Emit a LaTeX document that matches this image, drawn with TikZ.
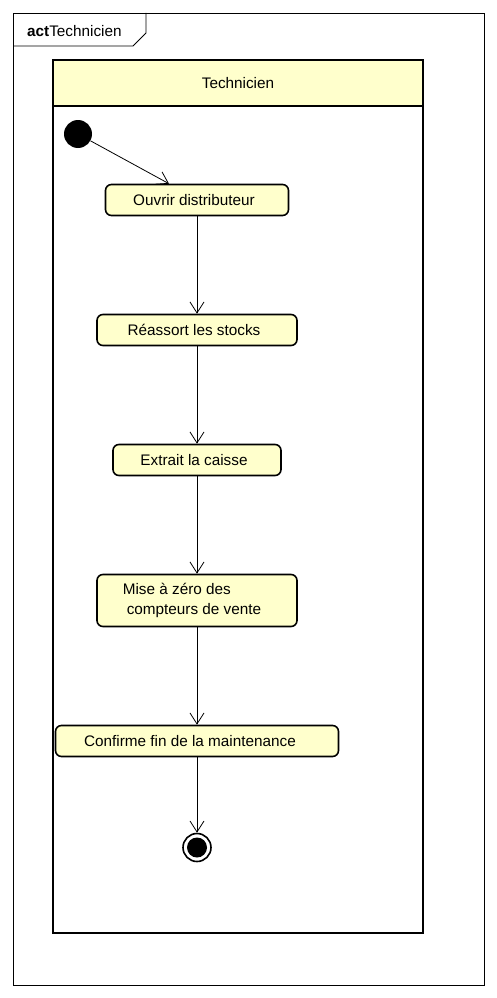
\documentclass[tikz,border=0pt]{standalone}
\usepackage{fontspec}
\setmainfont{Liberation Sans}
\usetikzlibrary{arrows.meta,positioning}
\definecolor{notepad}{HTML}{FFFFCC}

\begin{document}
\begin{tikzpicture}[
  x=1pt, y=-1pt,
  node distance=97.4pt,
  action/.style={draw, line width=1.6pt, fill=notepad, rounded corners=6pt, minimum height=31pt, inner sep=0pt, font=\fontsize{15.3}{20}\selectfont},
  lane/.style={draw, line width=1.6pt, inner sep=0pt},
  initial/.style={circle, fill, minimum size=28pt, inner sep=0pt},
  final/.style={circle, draw, line width=1.6pt, minimum size=28pt, inner sep=0pt, path picture={\fill (path picture bounding box.center) circle (10pt);}},
  arr/.style={-{Straight Barb[length=11pt,width=14pt]}, line width=0.8pt}
]
\useasboundingbox (0,0) rectangle (497,998);

% frame and tab
\draw[line width=0.8pt] (13,13) rectangle (484,985);
\draw[line width=0.8pt] (13,46) -- (133,46) -- (146,33) -- (146,13);
\node[anchor=west, inner sep=0pt, font=\fontsize{15.3}{18}\selectfont] (tab) at (27,31) {\textbf{act}Technicien};

% swimlane
\node[lane, minimum width=370pt, minimum height=873pt] (lane) at (238,496.5) {};
\node[lane, fill=notepad, minimum width=370pt, minimum height=46pt, font=\fontsize{15.3}{18}\selectfont] (head) at (238,83) {\raisebox{-2pt}{Technicien}};

\node[initial] (init) at (78,134) {};
\node[action, minimum width=183pt] (open) at (197,200) {\hspace*{-6pt}Ouvrir distributeur};
\node[action, minimum width=200pt, below=of open] (restock) {\hspace*{-6pt}Réassort les stocks};
\node[action, minimum width=168pt, below=of restock] (cash) {\hspace*{-6pt}Extrait la caisse};
\node[action, minimum width=200pt, minimum height=52pt, align=left, below=of cash] (reset) {Mise à zéro des\\\hspace*{4pt}compteurs de vente\hspace*{10pt}};
\node[action, minimum width=283pt, below=of reset] (confirm) {\hspace*{-14pt}Confirme fin de la maintenance};
\node[final, below=75.4pt of confirm] (final) {};

\draw[arr] (init) -- ([xshift=-28pt]open.north);
\draw[arr] (open) -- (restock);
\draw[arr] (restock) -- (cash);
\draw[arr] (cash) -- (reset);
\draw[arr] (reset) -- (confirm);
\draw[arr] (confirm) -- (final);
\end{tikzpicture}
\end{document}
